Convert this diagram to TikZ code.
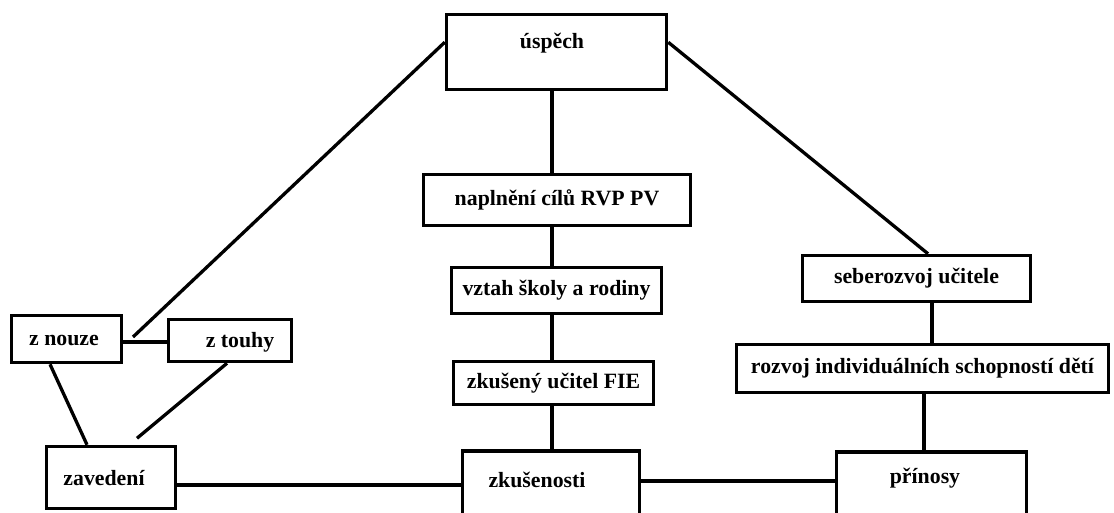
\documentclass[tikz,border=0pt]{standalone}
\usepackage{fontspec}
\setmainfont{Liberation Serif}
\usetikzlibrary{calc}
\begin{document}
\begin{tikzpicture}[x=1pt,y=-1pt,
  box/.style={draw=black,line width=3.5pt,inner sep=0pt,rectangle,anchor=center},
  txt/.style={inner sep=0pt,font=\fontsize{21.8}{24}\selectfont\bfseries},
  link/.style={draw=black,line width=3.3pt}]
\useasboundingbox[fill=white] (0,0) rectangle (1114,513);
% boxes
\node[box,minimum width=220,minimum height=75] (uspech) at (556.5,52) {};
\node[txt] (uspechT) at (552,43) {úspěch};
\node[box,minimum width=267,minimum height=51,txt] (naplneni) at (557,200) {naplnění cílů RVP PV};
\node[box,minimum width=210,minimum height=46,txt] (vztah) at (556.5,290.5) {vztah školy a rodiny};
\node[box,minimum width=200,minimum height=43,txt] (zkuseny) at (553.5,383) {zkušený učitel FIE};
\node[box,minimum width=177,minimum height=80] (zkusenosti) at (551,491) {};
\node[txt] (zkusenostiT) at (537,480) {zkušenosti};
\node[box,minimum width=110,minimum height=47] (znouze) at (66.5,339) {};
\node[txt] (znouzeT) at (64,340) {z nouze};
\node[box,minimum width=123,minimum height=42] (ztouhy) at (230,340.5) {};
\node[txt] (ztouhyT) at (240,342) {z touhy};
\node[box,minimum width=129,minimum height=62] (zavedeni) at (111,477.5) {};
\node[txt] (zavedeniT) at (104,478) {zavedení};
\node[box,minimum width=228,minimum height=46,txt] (seberozvoj) at (916.5,278.5) {seberozvoj učitele};
\node[box,minimum width=372,minimum height=48,txt] (rozvoj) at (922.5,368.5) {rozvoj individuálních schopností dětí};
\node[box,minimum width=190,minimum height=80] (prinosy) at (931.5,492) {};
\node[txt] (prinosyT) at (925,478) {přínosy};
% connectors
\coordinate (uLend) at (133,337);
\draw[link] ([yshift=-29.5pt]uspech.north west) -- (uLend);
\draw[link] ([yshift=-29.5pt]uspech.north east) -- ([xshift=11.5pt]seberozvoj.north);
\draw[link] ([xshift=-4.5pt]uspech.south) -- ([xshift=-4.5pt]uspech.south |- naplneni.north);
\draw[link] ([xshift=-5pt]naplneni.south) -- ([xshift=-5pt]naplneni.south |- vztah.north);
\draw[link] ([xshift=-4.5pt]vztah.south) -- ([xshift=-4.5pt]vztah.south |- zkuseny.north);
\draw[link] ([xshift=-1.5pt]zkuseny.south) -- ([xshift=-1.5pt]zkuseny.south |- zkusenosti.north);
\draw[link] ([yshift=-3pt]znouze.east) -- ([yshift=-3pt]znouze.east -| ztouhy.west);
\draw[link] ([xshift=-16.5pt]znouze.south) -- ([xshift=-24pt]zavedeni.north);
\draw[link] ([xshift=-3pt]ztouhy.south) -- ([xshift=26pt,yshift=6.5pt]zavedeni.north);
\draw[link] ([yshift=-7.5pt]zavedeni.east) -- ([yshift=-7.5pt]zavedeni.east -| zkusenosti.west);
\draw[link] ([yshift=10pt]zkusenosti.east) -- ([yshift=10pt]zkusenosti.east -| prinosy.west);
\draw[link] ([xshift=15.5pt]seberozvoj.south) -- ([xshift=15.5pt]seberozvoj.south |- rozvoj.north);
\draw[link] ([xshift=1.5pt]rozvoj.south) -- ([xshift=1.5pt]rozvoj.south |- prinosy.north);
\end{tikzpicture}
\end{document}
